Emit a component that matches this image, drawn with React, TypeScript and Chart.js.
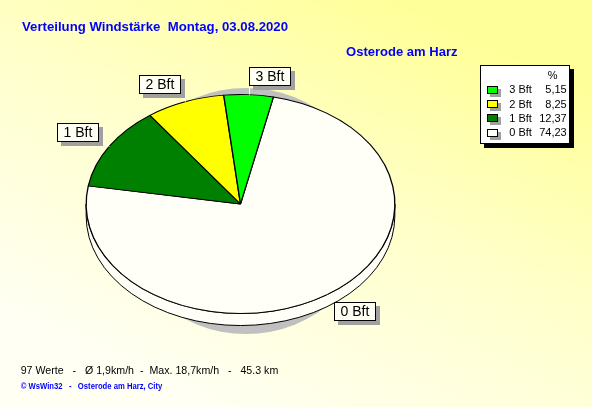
import React, { useEffect, useRef } from 'react';
import { Chart, registerables } from 'chart.js';

Chart.register(...registerables);

// ---- data ----
const categories = ['0 Bft', '1 Bft', '2 Bft', '3 Bft'];
const percentages = [74.23, 12.37, 8.25, 5.15];
const percentLabels = ['74,23', '12,37', '8,25', '5,15'];
const sliceColors = ['#FFFFF8', '#008000', '#FFFF00', '#00FF00'];
const titleText = 'Verteilung Windstärke  Montag, 03.08.2020';
const stationText = 'Osterode am Harz';
const statsText = '97 Werte   -   Ø 1,9km/h  -  Max. 18,7km/h   -   45.3 km';
const creditText = '© WsWin32   -   Osterode am Harz, City';

// ---- layout constants ----
const W = 592;
const H = 407;
const RATIO = 110 / 155;
const DEPTH = 12;
const FONT = "'Liberation Sans', Arial, sans-serif";

function fitText(ctx: CanvasRenderingContext2D, text: string, x: number, y: number, font: string, color: string, width: number) {
  ctx.save();
  ctx.font = font;
  ctx.fillStyle = color;
  ctx.textBaseline = 'alphabetic';
  ctx.textAlign = 'left';
  const w = ctx.measureText(text).width;
  ctx.translate(x, y);
  ctx.scale(width / w, 1);
  ctx.fillText(text, 0, 0);
  ctx.restore();
}

function arcGeom(chart: any) {
  const meta = chart.getDatasetMeta(0);
  const arcs = meta.data as any[];
  const a0 = arcs[0];
  const cx = a0.x;
  const cy = a0.y;
  const r = a0.outerRadius;
  return { arcs, cx, cy, r, ry: r * RATIO };
}

const piePlugin = {
  id: 'pie3d',
  beforeDraw(chart: any) {
    const ctx: CanvasRenderingContext2D = chart.ctx;
    const g = ctx.createLinearGradient(400, 0, 210, 410);
    g.addColorStop(0, '#FFFF99');
    g.addColorStop(0.45, '#FFFFCA');
    g.addColorStop(1, '#FFFFF4');
    ctx.save();
    ctx.fillStyle = g;
    ctx.fillRect(0, 0, W, H);
    ctx.restore();
  },
  beforeDatasetsDraw(chart: any) {
    const ctx: CanvasRenderingContext2D = chart.ctx;
    const { arcs, cx, cy, r, ry } = arcGeom(chart);
    // shadow
    ctx.save();
    ctx.fillStyle = '#C0C0C0';
    ctx.beginPath();
    ctx.ellipse(cx + 5.5, cy + 7, r - 27, ry + 13.5, 0, 0, Math.PI * 2);
    ctx.fill();
    ctx.restore();
    // side band (front half)
    ctx.save();
    ctx.lineWidth = 1;
    ctx.strokeStyle = '#000';
    const TAU = Math.PI * 2;
    arcs.forEach((arc: any, i: number) => {
      let a = arc.startAngle;
      let b = arc.endAngle;
      const k = Math.floor(a / TAU);
      a -= k * TAU;
      b -= k * TAU;
      const ranges: [number, number][] = [];
      const s1 = Math.max(a, 0), e1 = Math.min(b, Math.PI);
      if (e1 > s1) ranges.push([s1, e1]);
      const s2 = Math.max(a, TAU), e2 = Math.min(b, TAU + Math.PI);
      if (e2 > s2) ranges.push([s2 - TAU, e2 - TAU]);
      ranges.forEach(([s, e]) => {
        ctx.beginPath();
        ctx.ellipse(cx, cy, r, ry, 0, s, e);
        ctx.lineTo(cx + r * Math.cos(e), cy + DEPTH + ry * Math.sin(e));
        ctx.ellipse(cx, cy + DEPTH, r, ry, 0, e, s, true);
        ctx.closePath();
        ctx.fillStyle = sliceColors[i];
        ctx.fill();
        ctx.stroke();
      });
    });
    ctx.restore();
    // squash the pie into an ellipse
    ctx.save();
    ctx.translate(cx, cy);
    ctx.scale(1, RATIO);
    ctx.translate(-cx, -cy);
  },
  afterDatasetsDraw(chart: any) {
    const ctx: CanvasRenderingContext2D = chart.ctx;
    ctx.restore();
    const { arcs, cx, cy, r, ry } = arcGeom(chart);
    const bw = 42, bh = 19;
    arcs.forEach((arc: any, i: number) => {
      const mid = (arc.startAngle + arc.endAngle) / 2;
      const ex = cx + r * Math.cos(mid);
      const ey = cy + ry * Math.sin(mid);
      const px = cx + r * 1.08 * Math.cos(mid);
      const py = cy + ry * 1.08 * Math.sin(mid);
      ctx.save();
      ctx.strokeStyle = '#FFFFFF';
      ctx.lineWidth = 1;
      ctx.beginPath();
      ctx.moveTo(Math.round(ex) + 0.5, ey);
      ctx.lineTo(Math.round(px) + 0.5, py);
      ctx.stroke();
      const left = Math.round(px >= cx ? px : px - bw);
      const top = Math.round(py < cy ? py - bh : py);
      ctx.fillStyle = '#A0A0A0';
      ctx.fillRect(left + 4, top + 4, bw, bh);
      ctx.fillStyle = '#FFFFF4';
      ctx.fillRect(left, top, bw, bh);
      ctx.strokeStyle = '#000';
      ctx.strokeRect(left + 0.5, top + 0.5, bw - 1, bh - 1);
      ctx.fillStyle = '#000';
      ctx.font = `14px ${FONT}`;
      ctx.textAlign = 'center';
      ctx.textBaseline = 'middle';
      ctx.fillText(categories[i], left + bw / 2, top + bh / 2 + 1);
      ctx.restore();
    });
  },
  afterDraw(chart: any) {
    const ctx: CanvasRenderingContext2D = chart.ctx;
    // titles
    fitText(ctx, titleText, 22, 30.5, `bold 13px ${FONT}`, '#0000FF', 266);
    fitText(ctx, stationText, 346, 55.5, `bold 13px ${FONT}`, '#0000FF', 111.5);
    fitText(ctx, statsText, 20.7, 373.5, `11.5px ${FONT}`, '#000000', 257.6);
    fitText(ctx, creditText, 20.7, 388.5, `bold 9px ${FONT}`, '#0000FF', 141.6);
    // legend
    ctx.save();
    const lx = 480, ly = 65, lw = 90, lh = 79;
    ctx.fillStyle = '#000';
    ctx.fillRect(lx + 4, ly + 4, lw, lh);
    ctx.fillStyle = '#FFFFFF';
    ctx.fillRect(lx, ly, lw, lh);
    ctx.strokeStyle = '#000';
    ctx.lineWidth = 1;
    ctx.strokeRect(lx + 0.5, ly + 0.5, lw - 1, lh - 1);
    ctx.font = `11px ${FONT}`;
    ctx.fillStyle = '#000';
    ctx.textBaseline = 'middle';
    ctx.textAlign = 'center';
    ctx.fillText('%', 552.7, 75.5);
    const order = [3, 2, 1, 0];
    order.forEach((idx, j) => {
      const yc = 89.6 + j * 14.4;
      const sy = Math.round(yc - 4);
      ctx.fillStyle = '#A0A0A0';
      ctx.fillRect(490, sy + 3, 11, 8);
      ctx.fillStyle = sliceColors[idx];
      ctx.fillRect(487, sy, 11, 8);
      ctx.strokeStyle = '#000';
      ctx.strokeRect(487.5, sy + 0.5, 10, 7);
      ctx.fillStyle = '#000';
      ctx.textAlign = 'left';
      ctx.fillText(categories[idx], 509.3, yc + 0.5);
      ctx.textAlign = 'right';
      ctx.fillText(percentLabels[idx], 566.7, yc + 0.5);
    });
    ctx.restore();
  },
};

export default function App() {
  const ref = useRef<HTMLCanvasElement | null>(null);
  useEffect(() => {
    document.body.style.margin = '0';
    const canvas = ref.current;
    if (!canvas) return;
    const chart = new Chart(canvas, {
      type: 'pie',
      data: {
        labels: categories,
        datasets: [
          {
            data: percentages,
            backgroundColor: sliceColors,
            borderColor: '#000000',
            borderWidth: 1.3,
            clip: false,
          } as any,
        ],
      },
      options: {
        responsive: false,
        animation: false,
        devicePixelRatio: 1,
        rotation: 12.3,
        events: [],
        layout: { padding: { left: 85.5, right: 196.5, top: 49, bottom: 48 } },
        plugins: {
          legend: { display: false },
          tooltip: { enabled: false },
          title: { display: false },
        },
      } as any,
      plugins: [piePlugin as any],
    });
    return () => chart.destroy();
  }, []);
  return <canvas ref={ref} width={W} height={H} style={{ display: 'block', width: W, height: H }} />;
}
